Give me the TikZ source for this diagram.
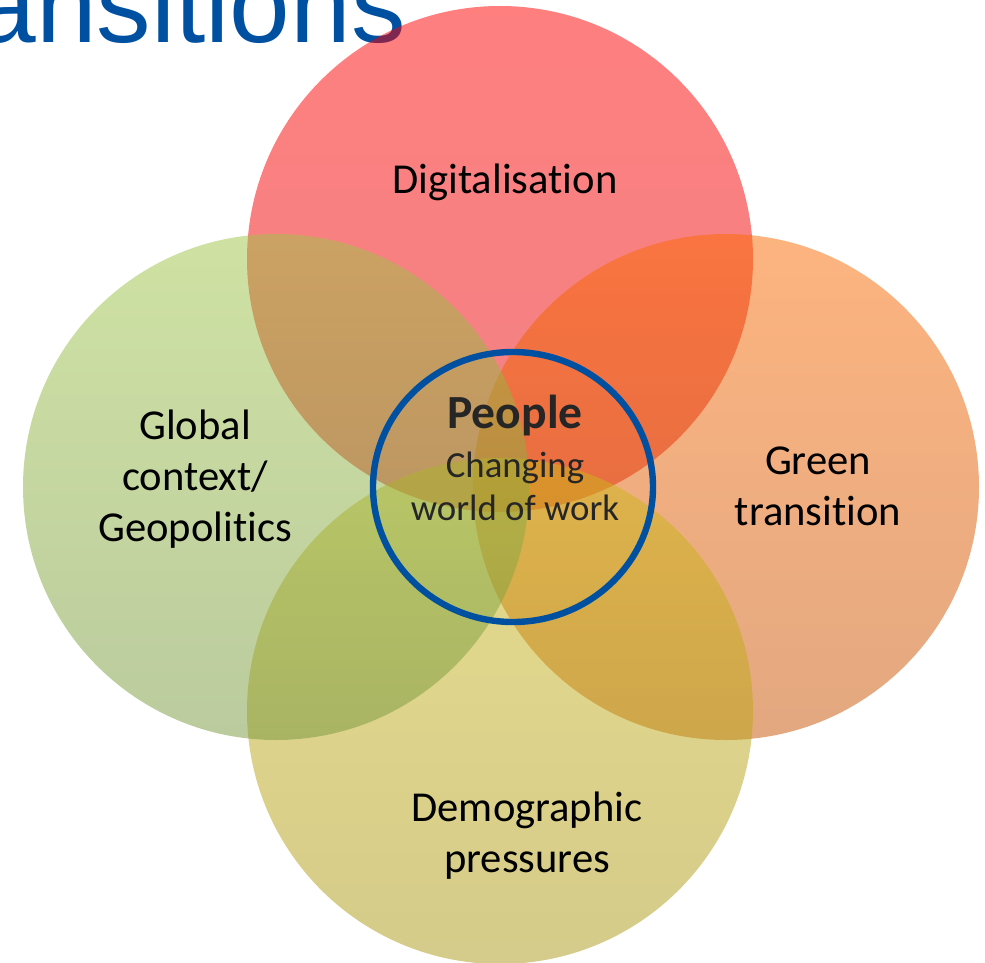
\documentclass[tikz,border=0pt]{standalone}
\usepackage{fontspec}
\setmainfont[Ligatures=NoCommon]{Carlito}
\newfontfamily\titlefont{Liberation Sans}
\usetikzlibrary{shapes.geometric}

\definecolor{ecblue}{RGB}{0,80,162}
\definecolor{peoplegray}{RGB}{38,38,38}
\definecolor{digitop}{RGB}{255,0,0}
\definecolor{digibot}{RGB}{226,4,8}
\definecolor{greentop}{RGB}{251,105,0}
\definecolor{greenbot}{RGB}{199,81,2}
\definecolor{demotop}{RGB}{205,185,25}
\definecolor{demobot}{RGB}{171,151,21}
\definecolor{globtop}{RGB}{159,197,71}
\definecolor{globbot}{RGB}{119,151,61}

\tikzstyle{venn} = [circle, minimum size=253pt, inner sep=0pt, draw=none, fill opacity=0.5]
\tikzstyle{topic} = [align=center, inner sep=0pt, text=black, font=\fontsize{21.3}{25.5}\selectfont]
\tikzstyle{ring} = [ellipse, draw=ecblue, line width=3.2pt, minimum width=140pt, minimum height=135pt, inner sep=0pt]

\begin{document}
\begin{tikzpicture}[x=0.5pt, y=-0.5pt]
	\useasboundingbox (0,0) rectangle (985,963);
	\clip (0,0) rectangle (985,963);
	\node (title) [anchor=base west, inner sep=0pt, text=ecblue, font=\titlefont\fontsize{54.5}{60}\selectfont] at (-25,43) {ansitions};
	
	\node (digital) [venn, top color=digitop, bottom color=digibot] at (500,259) {};
	\node (green)   [venn, top color=greentop, bottom color=greenbot] at (726,487) {};
	\node (demo)    [venn, top color=demotop, bottom color=demobot] at (500,711) {};
	\node (global)  [venn, top color=globtop, bottom color=globbot] at (276,487) {};
	
	\node (digitaltext) [topic] at (505,182) {Digitalisation};
	\node (greentext)   [topic] at (818,486) {Green\\transition};
	\node (demotext)    [topic] at (527,836) {Demographic\\pressures};
	\node (globaltext)  [topic] at (195,479) {Global\\context/\\Geopolitics};
	
	\node (people) [ring] at (513,487) {};
	\node (peopletext) [align=center, inner sep=0pt, text=peoplegray, font=\fontsize{18.4}{21.5}\selectfont] at (515,458) {{\bfseries\fontsize{23.8}{26}\selectfont People}\\[3pt] Changing\\world of work};
\end{tikzpicture}
\end{document}
